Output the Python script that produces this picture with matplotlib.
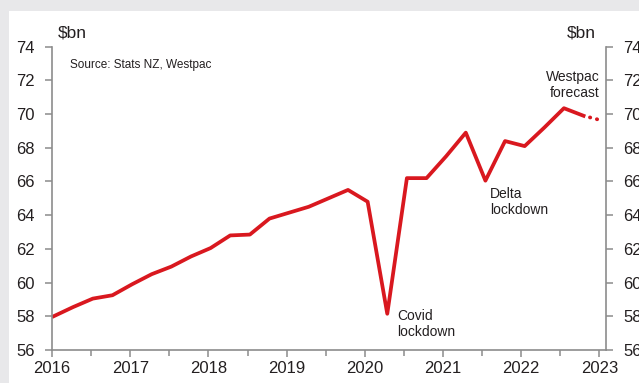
import numpy as np
import matplotlib.pyplot as plt
from matplotlib.patches import Rectangle

plt.rcParams['font.family'] = ['Liberation Sans', 'DejaVu Sans']

# Quarterly nominal retail spending, $bn
quarters = np.arange(28)
spending = [58.0, 58.55, 59.05, 59.25, 59.9, 60.5, 60.95, 61.55,
            62.05, 62.8, 62.85, 63.8, 64.15, 64.5, 65.0, 65.5,
            64.8, 58.15, 66.2, 66.2, 67.5, 68.9, 66.05, 68.4,
            68.1, 69.2, 70.35, 69.9]
forecast = [69.9, 69.6]
years = [2016, 2017, 2018, 2019, 2020, 2021, 2022, 2023]

dates = 2016.02 + 0.251 * quarters
fc_dates = [dates[-1], dates[-1] + 0.251]

red = '#d9181f'
axis_grey = '#8c8c8c'
text_col = '#231f20'

fig = plt.figure(figsize=(6.39, 3.83), dpi=100, facecolor='#e8e8ea')
# white panel behind the chart
fig.add_artist(Rectangle((9 / 639, 0), 1, 1 - 11 / 383, transform=fig.transFigure,
                         facecolor='white', edgecolor='none', zorder=-5))

ax = fig.add_axes([52 / 639, 33 / 383, 553.7 / 639, 303.3 / 383])
ax.set_facecolor('none')
ax.plot(dates, spending, color=red, lw=2.7)
ax.plot(fc_dates, forecast, color=red, lw=2.7, linestyle=(0.15, (0.1, 1.8)),
        dash_capstyle='round')

ax.set_xlim(2016, 2023.08)
ax.set_ylim(56, 74)
ax.set_xticks(years)
ax.set_xticks(np.arange(2016.5, 2023, 1), minor=True)
ax.set_yticks(range(56, 75, 2))

ax.spines['top'].set_visible(False)
for side in ['left', 'right', 'bottom']:
    ax.spines[side].set_color(axis_grey)
    ax.spines[side].set_linewidth(1.2)

ax.tick_params(axis='both', which='both', color=axis_grey, width=1.1,
               labelsize=12, labelcolor=text_col)
ax.tick_params(axis='x', which='major', length=5, pad=3)
ax.tick_params(axis='x', which='minor', length=4)
ax.tick_params(axis='y', length=5, pad=7.5, right=True, labelright=True)

ax.text(0.01, 1.045, '$bn', transform=ax.transAxes, fontsize=12.5,
        color=text_col, ha='left', va='center')
ax.text(0.9825, 1.045, '$bn', transform=ax.transAxes, fontsize=12.5,
        color=text_col, ha='right', va='center')
ax.text(2016.23, 72.9, 'Source: Stats NZ, Westpac', fontsize=8.5,
        color=text_col, ha='left', va='center')

ax.text(2023.0, 71.75, 'Westpac\nforecast', fontsize=10, color=text_col,
        ha='right', va='center', multialignment='right')
ax.text(2020.41, 57.54, 'Covid\nlockdown', fontsize=10, color=text_col,
        ha='left', va='center')
ax.text(2021.6, 64.78, 'Delta\nlockdown', fontsize=10, color=text_col,
        ha='left', va='center')

fig.savefig('out.png', dpi=100, facecolor=fig.get_facecolor())
